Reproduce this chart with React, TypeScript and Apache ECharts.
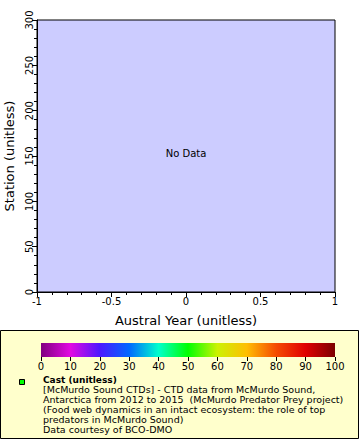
import React, { useEffect, useRef } from "react";
import * as echarts from "echarts";

const xTitle = "Austral Year (unitless)";
const yTitle = "Station (unitless)";
const xRange = [-1, 1];
const yRange = [0, 300];
const noDataText = "No Data";
const paletteStops = [0, 10, 20, 30, 40, 50, 60, 70, 80, 90, 100];
const paletteColors = [
  "#800080", "#e20ae2", "#4c18ff", "#0068ff", "#00ffcc", "#00ff00",
  "#ccf200", "#ffbe00", "#f54a00", "#e00000", "#7c0000",
];
const legendTitle = "Cast (unitless)";
const legendLines = [
  "[McMurdo Sound CTDs] - CTD data from McMurdo Sound,",
  "Antarctica from 2012 to 2015  (McMurdo Predator Prey project)",
  "(Food web dynamics in an intact ecosystem: the role of top",
  "predators in McMurdo Sound)",
  "Data courtesy of BCO-DMO",
];

const FONT = "DejaVu Sans";

export default function App() {
  const ref = useRef<HTMLDivElement>(null);
  useEffect(() => {
    const chart = echarts.init(ref.current!, null, { renderer: "svg" });
    const pMin = paletteStops[0];
    const pMax = paletteStops[paletteStops.length - 1];
    const colorStops = paletteStops.map((s, i) => ({
      offset: (s - pMin) / (pMax - pMin),
      color: paletteColors[i],
    }));
    const lineGap = 9.9;
    const graphics: any[] = [
      {
        type: "rect",
        shape: { x: 0.5, y: 330.5, width: 358, height: 108 },
        style: { fill: "#ffffcc", stroke: "#000", lineWidth: 1 },
        z: 0,
      },
      {
        type: "rect",
        shape: { x: 41, y: 343, width: 294, height: 14 },
        style: {
          fill: new echarts.graphic.LinearGradient(0, 0, 1, 0, colorStops),
        },
        z: 1,
      },
      {
        type: "text",
        x: 186,
        y: 153,
        style: {
          text: noDataText,
          font: `10px "${FONT}"`,
          fill: "#000",
          align: "center",
          verticalAlign: "middle",
        },
        z: 10,
      },
      {
        type: "rect",
        shape: { x: 19.5, y: 379.5, width: 5, height: 5 },
        style: { fill: "#00ff00", stroke: "#000", lineWidth: 1 },
        z: 2,
      },
      {
        type: "text",
        x: 43,
        y: 379.5,
        style: {
          text: legendTitle,
          font: `bold 9px "${FONT}"`,
          fill: "#000",
          verticalAlign: "middle",
        },
        z: 2,
      },
      ...legendLines.map((t, i) => ({
        type: "text",
        x: 43,
        y: 379.5 + (i + 1) * lineGap,
        style: {
          text: t,
          font: `9.5px "${FONT}"`,
          fill: "#000",
          verticalAlign: "middle",
        },
        z: 2,
      })),
    ];
    chart.setOption({
      animation: false,
      backgroundColor: "#fff",
      textStyle: { fontFamily: FONT },
      grid: [
        {
          left: 37,
          top: 20,
          width: 298,
          height: 272,
          show: true,
          backgroundColor: "#ccccff",
          borderColor: "#000",
          borderWidth: 1,
          containLabel: false,
          outerBoundsMode: "none",
        },
        {
          left: 41,
          top: 343,
          width: 294,
          height: 14,
          show: false,
          containLabel: false,
          outerBoundsMode: "none",
        },
      ],
      xAxis: [
        {
          gridIndex: 0,
          type: "value",
          min: xRange[0],
          max: xRange[1],
          interval: 0.5,
          name: xTitle,
          nameLocation: "middle",
          nameGap: 22,
          nameTextStyle: { fontSize: 13, color: "#000", fontFamily: FONT },
          axisLine: { show: true, onZero: false, lineStyle: { color: "#000", width: 1 } },
          axisTick: { show: true, length: 5, inside: false, lineStyle: { color: "#000" } },
          minorTick: { show: true, splitNumber: 5, length: 3, lineStyle: { color: "#000" } },
          splitLine: { show: false },
          axisLabel: { fontSize: 10, color: "#000", margin: 4, fontFamily: FONT },
        },
        {
          gridIndex: 1,
          type: "value",
          min: pMin,
          max: pMax,
          interval: 10,
          axisLine: { show: false },
          axisTick: { show: true, length: 4, lineStyle: { color: "#000" } },
          splitLine: { show: false },
          axisLabel: { fontSize: 10, color: "#000", margin: 4, fontFamily: FONT },
        },
      ],
      yAxis: [
        {
          gridIndex: 0,
          type: "value",
          min: yRange[0],
          max: yRange[1],
          interval: 50,
          name: yTitle,
          nameLocation: "middle",
          nameGap: 15,
          nameRotate: 90,
          nameTextStyle: { fontSize: 13, color: "#000", fontFamily: FONT },
          axisLine: { show: true, onZero: false, lineStyle: { color: "#000", width: 1 } },
          axisTick: { show: true, length: 5, lineStyle: { color: "#000" } },
          minorTick: { show: true, splitNumber: 5, length: 3, lineStyle: { color: "#000" } },
          splitLine: { show: false },
          axisLabel: { fontSize: 10, color: "#000", margin: 3, rotate: 90, fontFamily: FONT },
        },
        {
          gridIndex: 1,
          type: "value",
          show: false,
          min: 0,
          max: 1,
        },
      ],
      series: [
        {
          type: "scatter",
          xAxisIndex: 0,
          yAxisIndex: 0,
          data: [],
        },
      ],
      graphic: graphics,
    });
    return () => chart.dispose();
  }, []);
  return (
    <div
      ref={ref}
      style={{ position: "absolute", left: 0, top: 0, width: 360, height: 440 }}
    />
  );
}
